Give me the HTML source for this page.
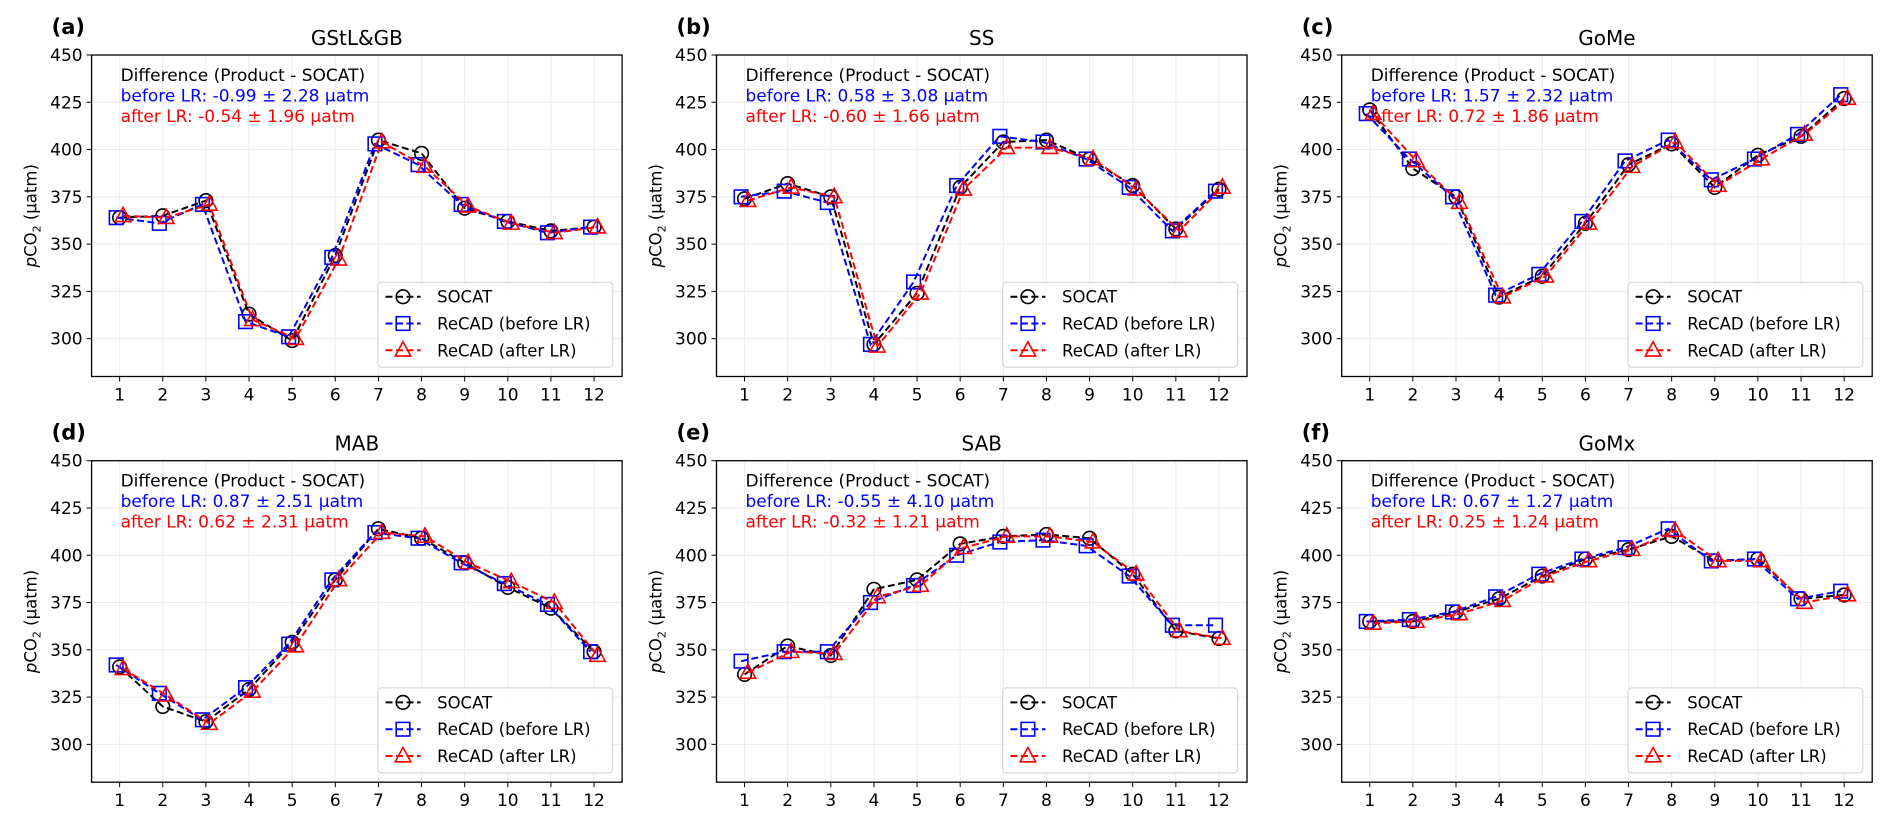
<!DOCTYPE html>
<html><head><meta charset="utf-8"><style>
html,body{margin:0;padding:0;background:#fff;}
svg{display:block;font-family:"DejaVu Sans","Liberation Sans",sans-serif;}
</style></head><body>
<svg id="fig" width="1892" height="826" viewBox="0 0 1892 826" xmlns="http://www.w3.org/2000/svg"></svg>
<script>
const months = [1,2,3,4,5,6,7,8,9,10,11,12];
const yTicks = [300,325,350,375,400,425,450];
const panelLetters = ["(a)","(b)","(c)","(d)","(e)","(f)"];
const panelTitles = ["GStL&GB","SS","GoMe","MAB","SAB","GoMx"];
const beforeText = ["-0.99 ± 2.28","0.58 ± 3.08","1.57 ± 2.32","0.87 ± 2.51","-0.55 ± 4.10","0.67 ± 1.27"];
const afterText = ["-0.54 ± 1.96","-0.60 ± 1.66","0.72 ± 1.86","0.62 ± 2.31","-0.32 ± 1.21","0.25 ± 1.24"];
const socatA = [364,365,373,313,299,344,405,398,369,362,357,359];
const beforeA = [364,361,371,309,301,343,403,392,371,362,356,359];
const afterA = [365,364,371,310,300,342,404,391,370,361,356,359];
const socatB = [374,382,375,297,324,380,404,405,395,381,358,379];
const beforeB = [375,378,372,297,330,381,407,404,395,380,357,378];
const afterB = [373,380,375,296,324,379,401,401,395,379,357,380];
const socatC = [421,390,375,322,333,361,392,403,380,397,407,427];
const beforeC = [419,395,375,323,334,362,394,405,384,395,408,429];
const afterC = [419,394,372,322,333,361,391,404,381,395,408,427];
const socatD = [341,320,312,329,354,387,414,409,396,383,372,349];
const beforeD = [342,327,313,330,353,387,412,409,396,385,374,349];
const afterD = [340,326,311,328,352,387,412,410,396,386,375,347];
const socatE = [337,352,347,382,387,406,410,411,409,390,360,356];
const beforeE = [344,349,349,375,384,400,407,408,405,389,363,363];
const afterE = [338,349,348,378,384,404,410,410,407,390,360,356];
const socatF = [365,365,370,377,389,398,403,410,397,398,377,379];
const beforeF = [365,366,370,378,390,398,404,414,397,398,377,381];
const afterF = [364,365,369,376,389,397,403,413,397,397,375,379];
const socatAll = [socatA,socatB,socatC,socatD,socatE,socatF];
const beforeAll = [beforeA,beforeB,beforeC,beforeD,beforeE,beforeF];
const afterAll = [afterA,afterB,afterC,afterD,afterE,afterF];

const NS = "http://www.w3.org/2000/svg";
const fig = document.getElementById('fig');
function mk(tag, attrs, parent, text){
  const e = document.createElementNS(NS, tag);
  for (const k in attrs) e.setAttribute(k, attrs[k]);
  if (text !== undefined) e.textContent = text;
  (parent||fig).appendChild(e);
  return e;
}
const colLeft = [91.6, 716.5, 1341.7];
const rowTop = [55, 460.7];
const W = 530.5, H = 321.5;
const XMIN = 0.35, XMAX = 12.65, YMIN = 280, YMAX = 450;

function marker(g, kind, cx, cy, color){
  let e;
  if (kind === 'circle') e = mk('circle',{cx:cx,cy:cy,r:6.8,fill:'none',stroke:color,'stroke-width':1.6},g);
  else if (kind === 'square') e = mk('rect',{x:cx-6.8,y:cy-6.8,width:13.6,height:13.6,fill:'none',stroke:color,'stroke-width':1.6},g);
  else e = mk('polygon',{points:`${cx},${cy-8.5} ${cx-7.8},${cy+5.8} ${cx+7.8},${cy+5.8}`,fill:'none',stroke:color,'stroke-width':1.6},g);
  return e;
}

for (let p = 0; p < 6; p++){
  const L = colLeft[p%3], T = rowTop[Math.floor(p/3)], R = L + W, B = T + H;
  const xs = v => L + (v - XMIN)/(XMAX - XMIN)*W;
  const ys = v => T + (YMAX - v)/(YMAX - YMIN)*H;
  const g = mk('g',{});
  
  
  months.forEach(m=>{ mk('line',{x1:xs(m),x2:xs(m),y1:T,y2:B,stroke:'#ebebeb','stroke-width':1},g); });
  yTicks.forEach(v=>{ mk('line',{x1:L,x2:R,y1:ys(v),y2:ys(v),stroke:'#ebebeb','stroke-width':1},g); });
  months.forEach(m=>{
    mk('line',{x1:xs(m),x2:xs(m),y1:B,y2:B+5,stroke:'#000','stroke-width':1},g);
    const t = mk('text',{x:xs(m),y:B+24,'text-anchor':'middle','font-size':17,fill:'#000'},g,String(m));
    
    
  });
  yTicks.forEach(v=>{
    mk('line',{x1:L-5,x2:L,y1:ys(v),y2:ys(v),stroke:'#000','stroke-width':1},g);
    const t = mk('text',{x:L-9,y:ys(v)+6,'text-anchor':'end','font-size':17,fill:'#000'},g,String(v));
    
    
  });
  const yl = mk('text',{x:0,y:0,transform:`translate(${L-55},${(T+B)/2}) rotate(-90)`,'text-anchor':'middle','font-size':16.5,fill:'#000'},g);
  
  
  mk('tspan',{'font-style':'italic'},yl,'p');
  mk('tspan',{},yl,'CO');
  mk('tspan',{'font-size':11,dy:4},yl,'2');
  mk('tspan',{dy:-4},yl,' (µatm)');
  const tt = mk('text',{x:(L+R)/2,y:T-10,'text-anchor':'middle','font-size':20,fill:'#000'},g,panelTitles[p]);
  
  
  const lt = mk('text',{x:L-40,y:T-21,'font-size':21,'font-weight':'bold',fill:'#000'},g,panelLetters[p]);
  
  
  const a1 = mk('text',{x:L+29,y:T+26,'font-size':17,fill:'#000'},g,'Difference (Product - SOCAT)');
  
  
  const a2 = mk('text',{x:L+29,y:T+46.5,'font-size':17,fill:'#0000ff'},g,'before LR: ' + beforeText[p] + ' µatm');
  
  
  const a3 = mk('text',{x:L+29,y:T+67,'font-size':17,fill:'#ff0000'},g,'after LR: ' + afterText[p] + ' µatm');
  
  
  const series = [
    {d:socatAll[p], c:'#000000', k:'circle', off:0, n:'socat'},
    {d:beforeAll[p], c:'#0000ff', k:'square', off:-0.08, n:'recad-before-lr'},
    {d:afterAll[p], c:'#ff0000', k:'triangle', off:0.08, n:'recad-after-lr'}
  ];
  series.forEach(s=>{
    const sg = mk('g',{},g);
    
    
    const pts = s.d.map((v,i)=>xs(months[i]+s.off)+','+ys(v)).join(' ');
    mk('polyline',{points:pts,fill:'none',stroke:s.c,'stroke-width':2,'stroke-dasharray':'7,3.5'},sg);
    s.d.forEach((v,i)=>{
      const m = marker(sg, s.k, xs(months[i]+s.off), ys(v), s.c);
      
      
    });
  });
  mk('rect',{x:L,y:T,width:W,height:H,fill:'none',stroke:'#000','stroke-width':1.3},g);
  const lg = mk('g',{},g);
  
  
  const bx = R - 9.3 - 235, by = B - 9.3 - 85;
  mk('rect',{x:bx,y:by,width:235,height:85,rx:4,fill:'#fff','fill-opacity':0.85,stroke:'#d0d0d0','stroke-width':1},lg);
  const labels = ['SOCAT','ReCAD (before LR)','ReCAD (after LR)'];
  series.forEach((s,i)=>{
    const ey = by + 14.5 + i*26.8;
    const eg = mk('g',{},lg);
    
    
    mk('line',{x1:bx+7.7,x2:bx+42.7,y1:ey,y2:ey,stroke:s.c,'stroke-width':2,'stroke-dasharray':'7,3.5'},eg);
    marker(eg, s.k, bx+25.2, ey, s.c);
    mk('text',{x:bx+59.3,y:ey+6,'font-size':16.5,fill:'#000'},eg,labels[i]);
  });
}
</script>
</body></html>
